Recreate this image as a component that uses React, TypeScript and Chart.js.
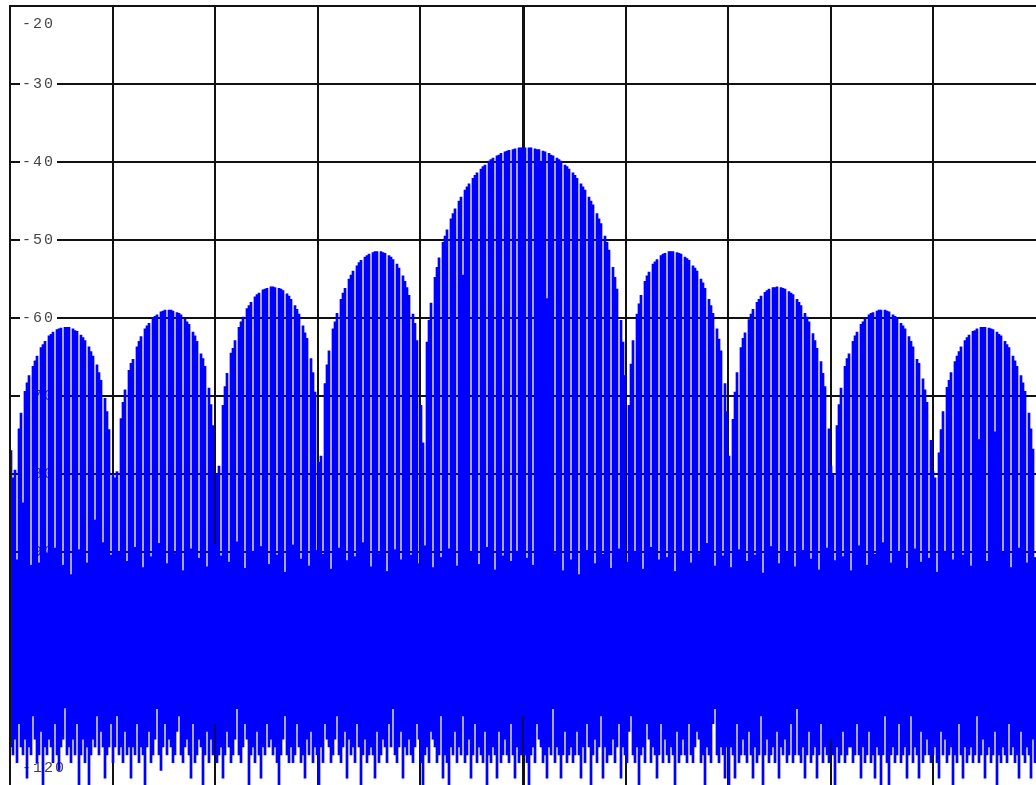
import React, { useEffect, useRef } from 'react';
import { Chart, registerables } from 'chart.js';

Chart.register(...registerables);

// Level axis (dB) and frequency grid divisions
const Y_MIN = -120;
const Y_MAX = -20;
const Y_STEP = 10;
const X_DIVISIONS = 10;

// Upper edge of the trace per 2-px frequency bin (dB): sinc envelope with the periodic notches
const HI_DB = [
  -77.0, -80.5, -79.5, -91.0, -74.2, -72.2, -83.7, -69.4, -68.3, -67.4,
  -91.7, -66.2, -65.5, -64.9, -91.4, -63.8, -63.4, -63.0, -90.1, -62.3,
  -62.1, -61.8, -89.5, -61.5, -61.4, -61.3, -91.7, -61.2, -61.2, -61.2,
  -92.9, -61.4, -61.6, -61.7, -89.7, -62.2, -62.5, -62.9, -91.4, -63.7,
  -64.3, -64.9, -85.9, -66.0, -67.0, -68.0, -88.8, -70.3, -72.0, -74.3,
  -90.4, -80.0, -80.5, -79.7, -90.1, -72.9, -70.8, -69.2, -91.2, -66.7,
  -65.8, -65.3, -89.4, -63.7, -63.0, -62.4, -92.0, -61.4, -61.0, -60.7,
  -90.6, -60.0, -59.8, -59.6, -88.9, -59.2, -59.1, -59.0, -91.5, -59.0,
  -59.0, -59.1, -90.2, -59.3, -59.4, -59.6, -92.4, -60.1, -60.5, -60.8,
  -89.6, -61.8, -62.3, -63.0, -90.8, -64.6, -65.2, -66.2, -91.9, -69.0,
  -71.1, -73.8, -89.0, -80.0, -79.0, -90.5, -71.2, -68.8, -67.1, -91.3,
  -64.5, -63.9, -62.9, -88.7, -61.2, -60.5, -59.9, -92.1, -58.8, -58.4,
  -58.0, -90.0, -57.3, -57.0, -56.8, -89.3, -56.4, -56.3, -56.2, -91.6,
  -56.0, -56.0, -56.1, -90.4, -56.2, -56.3, -56.5, -92.6, -56.9, -57.2,
  -57.6, -89.1, -58.4, -58.9, -59.5, -90.9, -61.0, -61.9, -62.6, -91.8,
  -65.2, -67.0, -69.5, -89.8, -78.5, -77.7, -90.3, -68.4, -66.0, -64.2,
  -92.2, -61.4, -60.5, -59.4, -89.5, -57.6, -56.8, -56.2, -91.1, -55.0,
  -54.5, -54.0, -90.6, -53.3, -52.9, -52.6, -88.8, -52.2, -52.0, -51.8,
  -91.9, -51.6, -51.5, -51.5, -90.2, -51.5, -51.6, -51.7, -92.5, -52.0,
  -52.2, -52.5, -89.7, -53.1, -53.6, -91.0, -54.6, -55.3, -56.1, -57.1,
  -90.4, -59.5, -60.7, -62.9, -91.5, -71.2, -76.0, -89.2, -63.1, -60.3,
  -58.1, -92.0, -54.8, -53.5, -52.3, -90.7, -50.3, -49.5, -48.7, -89.6,
  -47.3, -46.6, -46.0, -91.8, -45.0, -44.5, -54.5, -43.6, -43.2, -42.8,
  -90.1, -42.1, -41.7, -41.4, -91.6, -40.9, -40.6, -40.4, -89.4, -39.9,
  -39.7, -39.5, -92.3, -39.2, -39.1, -38.9, -90.5, -38.7, -38.6, -38.5,
  -91.2, -38.4, -38.3, -89.9, -38.2, -38.2, -38.2, -38.2, -90.8, -38.2,
  -38.2, -91.7, -38.3, -38.4, -38.4, -40.0, -38.6, -38.7, -57.5, -38.9,
  -39.1, -39.2, -90.2, -39.5, -39.7, -39.9, -92.4, -40.4, -40.6, -40.9,
  -91.0, -41.4, -41.7, -42.1, -92.9, -42.8, -43.2, -43.6, -89.8, -44.5,
  -45.0, -45.5, -91.5, -46.6, -47.3, -47.9, -90.3, -49.5, -50.3, -51.3,
  -92.1, -53.5, -54.8, -56.3, -89.6, -60.3, -63.1, -67.4, -91.3, -71.2,
  -65.9, -62.9, -90.0, -59.5, -58.2, -57.1, -92.2, -55.3, -54.6, -54.1,
  -89.4, -53.1, -52.8, -52.5, -91.0, -52.0, -51.8, -51.7, -90.7, -51.5,
  -51.5, -51.5, -92.5, -51.6, -51.7, -51.8, -89.9, -52.2, -52.4, -52.6,
  -91.4, -53.3, -53.6, -54.0, -90.2, -55.0, -55.5, -56.2, -88.9, -57.6,
  -58.4, -59.4, -91.8, -61.4, -62.7, -64.2, -90.5, -68.4, -72.0, -77.7,
  -92.0, -73.0, -69.5, -67.0, -89.7, -63.8, -62.6, -61.9, -91.2, -60.2,
  -59.5, -58.9, -90.4, -58.0, -57.6, -57.2, -92.7, -56.7, -56.5, -56.3,
  -89.3, -56.1, -56.1, -56.0, -91.5, -56.1, -56.2, -56.3, -90.1, -56.6,
  -56.8, -57.0, -91.9, -57.6, -58.0, -58.4, -89.8, -59.4, -59.9, -60.5,
  -90.9, -62.0, -62.9, -63.9, -92.3, -65.6, -67.1, -68.8, -89.5, -74.2,
  -79.0, -80.0, -91.1, -73.8, -71.1, -69.0, -90.6, -66.2, -65.2, -64.6,
  -92.4, -63.0, -62.3, -61.8, -89.2, -60.8, -60.5, -60.1, -91.7, -59.6,
  -59.4, -59.3, -90.3, -59.1, -59.0, -59.0, -88.8, -59.0, -59.1, -59.2,
  -91.4, -59.6, -59.8, -60.0, -90.0, -60.7, -61.0, -61.4, -92.1, -62.4,
  -63.0, -63.7, -89.6, -65.3, -65.8, -91.3, -67.8, -69.2, -70.8, -90.8,
  -75.7, -79.7, -80.5, -92.6, -77.3, -74.3, -72.0, -89.9, -68.9, -68.0,
  -67.0, -91.0, -65.6, -64.9, -64.3, -63.7, -90.4, -62.9, -62.5, -62.2,
  -91.8, -61.7, -61.6, -61.4, -75.6, -61.2, -61.2, -61.2, -91.2, -61.3,
  -61.4, -61.5, -74.6, -61.8, -62.1, -62.3, -90.1, -63.0, -63.4, -63.8,
  -92.0, -64.9, -65.5, -66.2, -89.5, -67.4, -68.3, -69.4, -91.4, -72.2,
  -74.2, -76.8, -90.7,
];

// Lower edge of the noise floor per bin (dB)
const LO_DB = [
  -115, -116, -114, -117, -112, -115, -116, -114, -119, -115, -116, -111, -114, -117, -116, -113, -120, -115, -116, -114,
  -115, -117, -112, -116, -118, -115, -114, -110, -116, -115, -117, -114, -116, -112, -120, -116, -114, -117, -115, -123,
  -116, -114, -115, -111, -116, -113, -115, -119, -116, -115, -112, -117, -115, -111, -116, -115, -117, -113, -116, -115,
  -119, -115, -116, -112, -117, -115, -116, -121, -115, -113, -117, -116, -114, -110, -116, -118, -115, -112, -116, -114,
  -115, -117, -116, -113, -111, -116, -117, -115, -114, -116, -119, -112, -117, -116, -114, -115, -121, -116, -113, -117,
  -114, -116, -112, -117, -116, -115, -119, -116, -113, -115, -117, -116, -114, -110, -116, -117, -115, -112, -114, -124,
  -116, -115, -117, -113, -116, -119, -115, -116, -112, -115, -114, -116, -115, -117, -120, -116, -114, -111, -116, -117,
  -115, -117, -116, -112, -115, -117, -116, -119, -114, -116, -113, -117, -115, -116, -122, -115, -117, -112, -114, -115,
  -117, -116, -114, -111, -116, -117, -115, -113, -119, -114, -116, -115, -117, -112, -115, -120, -116, -114, -117, -116,
  -115, -116, -119, -113, -117, -116, -114, -115, -117, -112, -115, -110, -116, -117, -115, -113, -119, -115, -116, -114,
  -116, -117, -115, -112, -114, -117, -120, -116, -115, -117, -113, -114, -115, -117, -116, -111, -119, -116, -117, -123,
  -115, -116, -113, -117, -115, -116, -111, -117, -116, -114, -119, -116, -112, -117, -115, -116, -117, -113, -120, -116,
  -117, -115, -116, -119, -113, -117, -116, -114, -116, -117, -112, -116, -119, -115, -117, -116, -111, -116, -117, -124,
  -116, -115, -117, -112, -114, -115, -117, -116, -119, -115, -116, -110, -117, -115, -116, -119, -116, -113, -117, -116,
  -115, -117, -116, -113, -116, -119, -115, -117, -112, -115, -120, -116, -114, -117, -115, -111, -119, -115, -117, -116,
  -116, -114, -117, -115, -112, -119, -115, -116, -117, -113, -111, -116, -117, -115, -121, -116, -115, -117, -112, -114,
  -117, -115, -116, -119, -116, -112, -117, -114, -116, -117, -115, -116, -120, -113, -117, -116, -114, -116, -117, -112,
  -116, -117, -115, -113, -114, -117, -116, -121, -115, -116, -117, -112, -110, -116, -117, -115, -116, -119, -115, -123,
  -115, -116, -119, -112, -117, -116, -114, -116, -117, -113, -116, -119, -115, -117, -116, -111, -120, -116, -114, -117,
  -116, -115, -117, -113, -119, -115, -116, -114, -117, -116, -112, -117, -116, -110, -116, -117, -115, -119, -116, -113,
  -117, -116, -115, -119, -116, -112, -117, -115, -116, -117, -114, -116, -121, -115, -117, -116, -113, -117, -116, -115,
  -115, -117, -116, -112, -116, -119, -115, -117, -116, -113, -117, -116, -119, -115, -116, -120, -116, -111, -117, -124,
  -116, -115, -117, -116, -112, -117, -116, -115, -119, -116, -111, -117, -115, -116, -119, -113, -117, -116, -114, -116,
  -117, -116, -115, -117, -119, -113, -116, -114, -117, -116, -115, -120, -116, -117, -112, -116, -119, -115, -117, -116,
  -115, -117, -116, -111, -117, -116, -114, -119, -116, -115, -117, -116, -113, -121, -116, -117, -115, -116, -117, -112,
  -116, -115, -117, -116, -119, -113, -116, -117, -115, -116, -119, -114, -117,
];

const letterSpacingPlugin = {
  id: 'labelLetterSpacing',
  beforeLayout(chart: any) {
    chart.ctx.letterSpacing = '2px';
  },
  beforeDraw(chart: any) {
    chart.ctx.letterSpacing = '2px';
  },
};

export default function App() {
  const canvasRef = useRef<HTMLCanvasElement>(null);

  useEffect(() => {
    document.body.style.margin = '0';
    document.body.style.overflow = 'hidden';
    document.documentElement.style.overflow = 'hidden';
    const canvas = canvasRef.current;
    if (!canvas) return;

    const bins = HI_DB.map((_, i) => i);
    const bars = HI_DB.map((hi, i) => [LO_DB[i], hi]);

    const chart = new Chart(canvas, {
      type: 'bar',
      data: {
        labels: bins,
        datasets: [
          {
            data: bars as any,
            backgroundColor: '#0000ff',
            borderWidth: 0,
            barPercentage: 1,
            categoryPercentage: 1,
            inflateAmount: 0.35,
          } as any,
        ],
      },
      options: {
        animation: false,
        responsive: false,
        devicePixelRatio: 1,
        events: [],
        layout: { padding: { left: 0, top: 6, right: 4, bottom: 4 } },
        plugins: {
          legend: { display: false },
          tooltip: { enabled: false },
        },
        scales: {
          x: { display: false },
          xg: {
            type: 'linear',
            position: 'bottom',
            offset: false,
            min: 0,
            max: X_DIVISIONS,
            ticks: { display: false, stepSize: 1 },
            grid: {
              offset: false,
              drawTicks: false,
              color: (c: any) =>
                c.tick && c.tick.value === X_DIVISIONS ? 'rgba(0,0,0,0)' : '#111111',
              lineWidth: (c: any) => (c.tick && c.tick.value === X_DIVISIONS / 2 ? 3 : 2),
            },
            border: { display: false },
          } as any,
          y: {
            min: Y_MIN,
            max: Y_MAX,
            ticks: {
              stepSize: Y_STEP,
              mirror: true,
              padding: 12,
              autoSkip: false,
              color: '#444444',
              font: { family: '"Liberation Mono", "DejaVu Sans Mono", monospace', size: 15 },
              callback: (v: any) => {
                const n = Math.round(Number(v));
                if (n === Y_MAX) return ['', '', String(n)];
                if (n === Y_MIN) return [String(n), '', ''];
                return String(n);
              },
              showLabelBackdrop: (c: any) =>
                !!c.tick && c.tick.value > Y_MIN && c.tick.value < Y_MAX,
              backdropColor: '#ffffff',
              backdropPadding: 2,
            },
            grid: { drawTicks: false, color: '#111111', lineWidth: 2 },
            border: { display: true, color: '#111111', width: 2, z: 1 },
            afterFit: (s: any) => {
              s.width = 10;
              s.paddingTop = 0;
              s.paddingBottom = 0;
            },
          } as any,
        },
      },
      plugins: [letterSpacingPlugin],
    } as any);

    return () => chart.destroy();
  }, []);

  return <canvas ref={canvasRef} width={1040} height={790} style={{ display: 'block' }} />;
}
